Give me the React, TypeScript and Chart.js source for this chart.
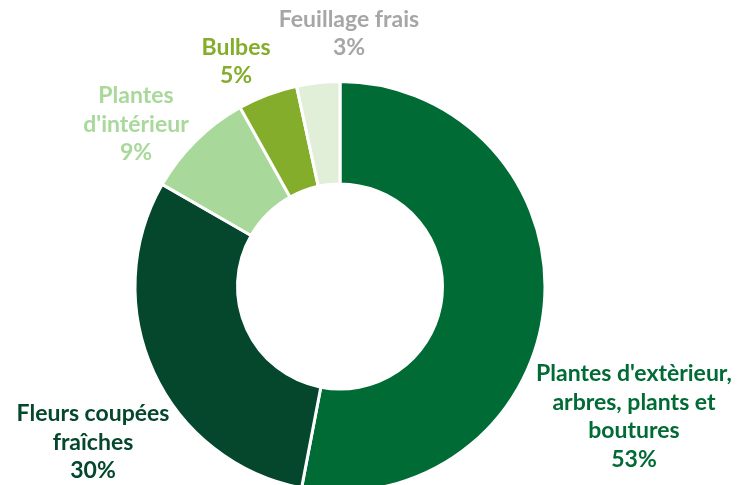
import React, { useEffect, useRef } from "react";
import { Chart, registerables } from "chart.js";

Chart.register(...registerables);

const categories: string[][] = [
  ["Plantes d'extèrieur,", "arbres, plants et", "boutures"],
  ["Fleurs coupées", "fraîches"],
  ["Plantes", "d'intérieur"],
  ["Bulbes"],
  ["Feuillage frais"],
];
const values: number[] = [53.0, 30.3, 8.6, 4.7, 3.4];
const percentLabels: string[] = ["53%", "30%", "9%", "5%", "3%"];
const sliceColors: string[] = ["#006B35", "#04472D", "#A8D99A", "#83AD2B", "#E1EFD9"];
const textColors: string[] = ["#006B35", "#04472D", "#A8D99A", "#83AD2B", "#A6A6A6"];
// label block centre offsets relative to the doughnut centre (px)
const labelOffsets: [number, number][] = [
  [294, 130],
  [-247, 156],
  [-204, -162],
  [-104, -225],
  [9, -253],
];

const labelPlugin = {
  id: "outerLabels",
  afterDraw(chart: any) {
    const meta = chart.getDatasetMeta(0);
    const ctx = chart.ctx;
    const lineH = 28.5;
    ctx.save();
    ctx.font = "bold 23px Lato, 'Open Sans', sans-serif";
    ctx.textAlign = "center";
    ctx.textBaseline = "middle";
    meta.data.forEach((arc: any, i: number) => {
      const lines = [...categories[i], percentLabels[i]];
      const [dx, dy] = labelOffsets[i];
      const cx = arc.x + dx;
      const cy = arc.y + dy;
      const top = cy - ((lines.length - 1) * lineH) / 2;
      ctx.fillStyle = textColors[i];
      lines.forEach((l, j) => ctx.fillText(l, cx, top + j * lineH));
    });
    ctx.restore();
  },
};

export default function App() {
  const ref = useRef<HTMLCanvasElement>(null);
  useEffect(() => {
    if (!ref.current) return;
    const chart = new Chart(ref.current, {
      type: "doughnut",
      data: {
        labels: categories,
        datasets: [
          {
            data: values,
            backgroundColor: sliceColors,
            borderColor: "#ffffff",
            borderWidth: 3,
            hoverOffset: 0,
            offset: 0,
          },
        ],
      },
      options: {
        responsive: false,
        animation: false,
        cutout: "50%",
        layout: { padding: { top: 80, bottom: 7, left: 0, right: 60 } },
        plugins: {
          legend: { display: false },
          tooltip: { enabled: false },
        },
      },
      plugins: [labelPlugin],
    });
    return () => chart.destroy();
  }, []);
  return (
    <div
      style={{
        position: "fixed",
        left: 0,
        top: 0,
        width: 740,
        height: 485,
        overflow: "hidden",
        background: "#ffffff",
      }}
    >
      <canvas ref={ref} width={740} height={500} style={{ display: "block" }} />
    </div>
  );
}
